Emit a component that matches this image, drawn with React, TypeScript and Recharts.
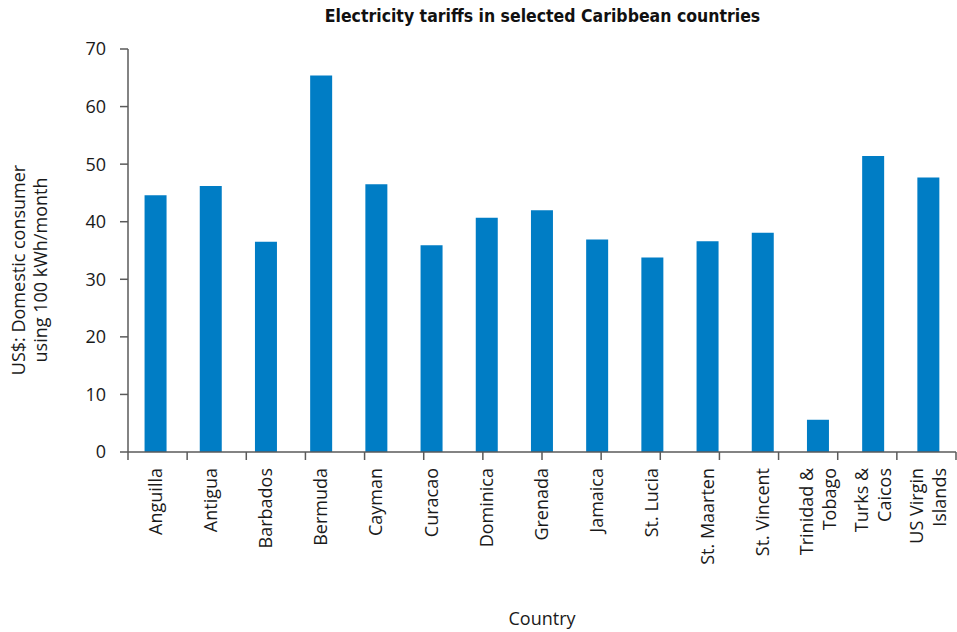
import React from "react";
import { BarChart, Bar, XAxis, YAxis, Label } from "recharts";

// Countries (line breaks mark wrapped axis labels)
const countries = [
  "Anguilla",
  "Antigua",
  "Barbados",
  "Bermuda",
  "Cayman",
  "Curacao",
  "Dominica",
  "Grenada",
  "Jamaica",
  "St. Lucia",
  "St. Maarten",
  "St. Vincent",
  "Trinidad &\nTobago",
  "Turks &\nCaicos",
  "US Virgin\nIslands",
];

// US$ per month for a domestic consumer using 100 kWh
const tariffs = [44.6, 46.2, 36.5, 65.4, 46.5, 35.9, 40.7, 42.0, 36.9, 33.8, 36.6, 38.1, 5.6, 51.4, 47.7];

const yTicks = [0, 10, 20, 30, 40, 50, 60, 70];

// Category boundaries, used for the tick marks between bars
const edgeTicks = [...countries.map((_, i) => i), countries.length];

const data = countries.map((country, i) => ({ country, tariff: tariffs[i] }));

const FONT = "'Open Sans', 'Noto Sans', sans-serif";
const AXIS = "#5a5a5a";
const TEXT = "#1a1a1a";
const BAR = "#007DC5";

const CountryTick = (props: any) => {
  const { x, y, payload } = props;
  const lines = String(payload.value).split("\n");
  const n = lines.length;
  return (
    <g>
      {lines.map((line: string, i: number) => {
        const off = 6 + (i - (n - 1) / 2) * 23;
        return (
          <text
            key={i}
            transform={`translate(${x + off},${y}) rotate(-90)`}
            textAnchor="end"
            fontSize={18}
            fontFamily={FONT}
            fill={TEXT}
          >
            {line}
          </text>
        );
      })}
    </g>
  );
};

const YTitle = () => (
  <text
    transform="translate(0,270) rotate(-90)"
    textAnchor="middle"
    fontSize={18}
    fontFamily={FONT}
    fill={TEXT}
  >
    <tspan x={0} y={25}>US$: Domestic consumer</tspan>
    <tspan x={0} y={47}>using 100 kWh/month</tspan>
  </text>
);

const XTitle = (props: any) => {
  const vb = props.viewBox || {};
  const cx = (vb.x ?? 0) + (vb.width ?? 0) / 2;
  return (
    <text x={cx} y={625} textAnchor="middle" fontSize={18} fontFamily={FONT} fill={TEXT}>
      Country
    </text>
  );
};

export default function App() {
  return (
    <div style={{ position: "absolute", left: 0, top: 0, width: 957, height: 632, background: "#fff" }}>
      <div
        style={{
          position: "absolute",
          left: 128,
          width: 829,
          top: 5,
          textAlign: "center",
          fontFamily: "'DejaVu Sans Condensed', 'DejaVu Sans', sans-serif",
          fontWeight: "bold",
          fontSize: 17.5,
          color: "#111",
          lineHeight: "22px",
        }}
      >
        Electricity tariffs in selected Caribbean countries
      </div>
      <BarChart
        width={957}
        height={632}
        data={data}
        margin={{ top: 49, right: 1, left: 68, bottom: 60 }}
        barCategoryGap="30%"
      >
        <XAxis
          xAxisId="edges"
          type="number"
          scale="linear"
          domain={[0, countries.length]}
          ticks={edgeTicks}
          tickFormatter={() => ""}
          tickSize={8}
          height={1}
          axisLine={{ stroke: AXIS, strokeWidth: 1.5 }}
          tickLine={{ stroke: AXIS, strokeWidth: 1.5 }}
          interval={0}
          allowDataOverflow
        />
        <XAxis
          xAxisId="labels"
          dataKey="country"
          interval={0}
          axisLine={false}
          tickLine={false}
          tickSize={0}
          tickMargin={15}
          height={119}
          tick={<CountryTick />}
        >
          <Label content={<XTitle />} />
        </XAxis>
        <YAxis
          domain={[0, 70]}
          ticks={yTicks}
          interval={0}
          width={60}
          tickSize={8}
          tickMargin={14}
          axisLine={{ stroke: AXIS, strokeWidth: 1.5 }}
          tickLine={{ stroke: AXIS, strokeWidth: 1.5 }}
          tick={{ fill: TEXT, fontSize: 18, fontFamily: FONT }}
        >
          <Label content={<YTitle />} />
        </YAxis>
        <Bar xAxisId="labels" dataKey="tariff" fill={BAR} isAnimationActive={false} />
      </BarChart>
    </div>
  );
}
